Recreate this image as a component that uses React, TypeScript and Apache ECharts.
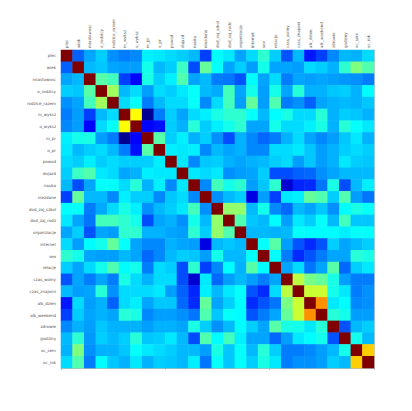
import React, { useEffect, useRef } from "react";
import * as echarts from "echarts";

const variables = [
  "plec", "wiek", "miastowosc", "o_rodzicy", "rodzice_razem", "m_wyksz", "o_wyksz",
  "m_pr", "o_pr", "powod", "dojazd", "nauka", "niezdane", "dod_zaj_szkol",
  "dod_zaj_rodz", "organizacje", "internet", "sex", "relacje", "czas_wolny",
  "czas_znajomi", "alk_dzien", "alk_weekend", "zdrowie", "godziny", "oc_sem", "oc_rok",
];

// upper triangle of the correlation matrix: row i holds columns i+1 .. n-1
const upper: number[][] = [
  [-0.17, -0.07, -0.01, -0.10, -0.13, -0.11, 0.04, 0.03, 0.01, -0.01, -0.04, -0.22, 0.06, 0.03, -0.07, 0.01, 0.13, -0.01, -0.19, -0.04, -0.28, -0.22, -0.11, -0.04, -0.05, 0.01],
  [-0.04, -0.02, -0.07, -0.08, -0.08, 0.09, -0.04, -0.01, 0.15, -0.20, 0.21, 0.07, -0.07, -0.01, -0.08, 0.09, -0.07, -0.07, -0.08, 0.01, -0.01, -0.05, 0.13, 0.25, 0.18],
  [0.19, 0.16, -0.22, -0.31, 0.10, -0.01, 0.04, 0.18, -0.07, -0.04, -0.13, -0.14, -0.19, 0.06, -0.07, 0.01, -0.13, -0.07, -0.08, -0.07, -0.08, -0.09, -0.10, -0.13],
  [0.30, -0.04, 0.01, -0.08, 0.01, -0.01, 0.03, 0.07, -0.04, -0.06, 0.16, -0.07, 0.09, -0.08, 0.09, -0.07, 0.12, -0.05, -0.05, -0.02, -0.01, -0.05, 0.06],
  [0.01, 0.07, -0.13, -0.04, 0.01, 0.01, 0.07, -0.11, 0.01, 0.16, -0.08, 0.21, -0.08, 0.18, -0.13, -0.10, -0.17, -0.07, -0.05, -0.04, -0.05, -0.02],
  [0.44, -0.47, -0.13, -0.01, -0.07, 0.01, 0.04, 0.10, 0.13, 0.13, 0.07, -0.04, 0.06, 0.10, 0.01, 0.01, 0.12, -0.05, -0.01, -0.02, -0.05],
  [-0.31, -0.29, -0.01, -0.05, 0.12, -0.01, 0.04, 0.09, 0.13, -0.07, -0.07, 0.09, 0.01, 0.01, 0.04, 0.10, -0.05, 0.12, 0.07, 0.03],
  [0.19, -0.01, 0.04, -0.05, -0.01, -0.10, -0.20, -0.05, -0.11, -0.16, -0.13, -0.05, 0.01, -0.07, -0.11, -0.08, -0.02, 0.03, -0.05],
  [0.04, 0.03, 0.04, -0.11, -0.04, -0.07, -0.05, -0.11, -0.11, 0.01, 0.01, 0.03, -0.02, -0.08, -0.05, -0.01, 0.01, -0.01],
  [0.03, -0.11, -0.02, -0.01, -0.05, -0.07, -0.05, -0.04, -0.01, 0.01, -0.08, -0.02, -0.08, -0.05, 0.03, -0.01, -0.02],
  [0.03, 0.01, 0.03, -0.10, -0.08, -0.07, -0.01, -0.20, -0.20, -0.17, -0.16, -0.10, -0.07, -0.04, -0.04, -0.04],
  [-0.11, 0.16, 0.09, 0.13, -0.08, -0.02, 0.13, -0.38, -0.26, -0.25, -0.14, 0.10, -0.20, -0.04, 0.04],
  [-0.10, -0.04, -0.01, -0.35, -0.08, -0.22, 0.03, 0.04, 0.21, 0.18, -0.01, 0.18, -0.08, -0.14],
  [0.28, 0.28, -0.04, 0.09, -0.11, -0.16, -0.04, -0.07, -0.02, -0.10, 0.06, 0.10, 0.07],
  [0.18, -0.02, -0.04, 0.06, -0.08, 0.03, -0.01, 0.07, -0.04, 0.16, -0.02, -0.02],
  [-0.04, -0.04, -0.05, -0.04, 0.07, 0.06, 0.06, 0.06, 0.04, 0.07, 0.07],
  [0.07, 0.19, -0.08, -0.19, -0.25, -0.19, -0.01, -0.07, -0.04, -0.01],
  [0.06, -0.13, -0.25, -0.19, -0.13, -0.07, -0.07, 0.12, 0.10],
  [-0.07, 0.01, -0.14, -0.07, 0.19, -0.16, -0.01, 0.03],
  [0.34, 0.24, 0.21, 0.10, -0.08, -0.13, -0.13],
  [0.36, 0.36, 0.09, 0.03, -0.13, -0.10],
  [0.60, 0.03, 0.06, -0.11, -0.10],
  [0.12, 0.09, -0.08, -0.08],
  [-0.19, -0.04, -0.01],
  [0.09, -0.04],
  [0.51],
];

const jetColors = [
  "#00007F", "#0000FF", "#007FFF", "#00FFFF", "#7FFF7F",
  "#FFFF00", "#FF7F00", "#FF0000", "#7F0000",
];

function buildCells(): [number, number, number][] {
  const n = variables.length;
  const cells: [number, number, number][] = [];
  for (let i = 0; i < n; i++) {
    for (let j = 0; j < n; j++) {
      let v: number;
      if (i === j) v = 1;
      else if (j > i) v = upper[i][j - i - 1];
      else v = upper[j][i - j - 1];
      cells.push([j, i, v]);
    }
  }
  return cells;
}

export default function App() {
  const ref = useRef<HTMLDivElement>(null);
  useEffect(() => {
    if (!ref.current) return;
    const chart = echarts.init(ref.current, null, { renderer: "svg" });
    chart.setOption({
      animation: false,
      backgroundColor: "#ffffff",
      grid: { left: 61, top: 50, right: 38, bottom: 43 },
      visualMap: {
        show: false,
        min: -0.5,
        max: 1,
        inRange: { color: jetColors },
      },
      xAxis: [
        {
          type: "category",
          data: variables,
          position: "top",
          axisLine: { show: false },
          axisTick: { show: false },
          splitLine: { show: false },
          axisLabel: { show: false },
        },
        {
          type: "category",
          data: variables,
          position: "bottom",
          axisLine: { show: true, lineStyle: { color: "#bbb", width: 1 } },
          axisTick: { show: true, length: 2, lineStyle: { color: "#bbb" } },
          axisLabel: { show: false },
          splitLine: { show: false },
        },
      ],
      yAxis: [
        {
          type: "category",
          data: variables,
          inverse: true,
          axisLine: { show: false },
          axisTick: { show: false },
          splitLine: { show: false },
          axisLabel: {
            fontSize: 4,
            color: "#555",
            fontFamily: "DejaVu Sans",
            margin: 5,
            interval: 0,
          },
        },
        {
          type: "category",
          data: variables,
          inverse: true,
          position: "right",
          axisLine: { show: true, lineStyle: { color: "#ccc", width: 1 } },
          axisTick: { show: false },
          axisLabel: { show: false },
          splitLine: { show: false },
        },
      ],
      series: [
        {
          type: "heatmap",
          xAxisIndex: 0,
          yAxisIndex: 0,
          data: buildCells(),
          itemStyle: { borderWidth: 0 },
          emphasis: { disabled: true },
        },
      ],
    });
    // top column labels, placed through the x axis scale
    const topY = chart.convertToPixel({ yAxisIndex: 0 }, variables[0]) as number;
    const cellH = (chart.convertToPixel({ yAxisIndex: 0 }, variables[1]) as number) - topY;
    const labelBase = topY - cellH / 2 - 2;
    chart.setOption({
      graphic: variables.map((name) => ({
        type: "text",
        x: chart.convertToPixel({ xAxisIndex: 0 }, name) as number,
        y: labelBase,
        rotation: Math.PI / 2,
        silent: true,
        style: {
          text: name,
          fontSize: 4,
          fontFamily: "DejaVu Sans",
          fill: "#555",
          align: "left",
          verticalAlign: "middle",
        },
      })),
    });
    return () => chart.dispose();
  }, []);
  return (
    <div
      ref={ref}
      style={{ position: "fixed", left: 0, top: 0, width: 412, height: 411 }}
    />
  );
}
